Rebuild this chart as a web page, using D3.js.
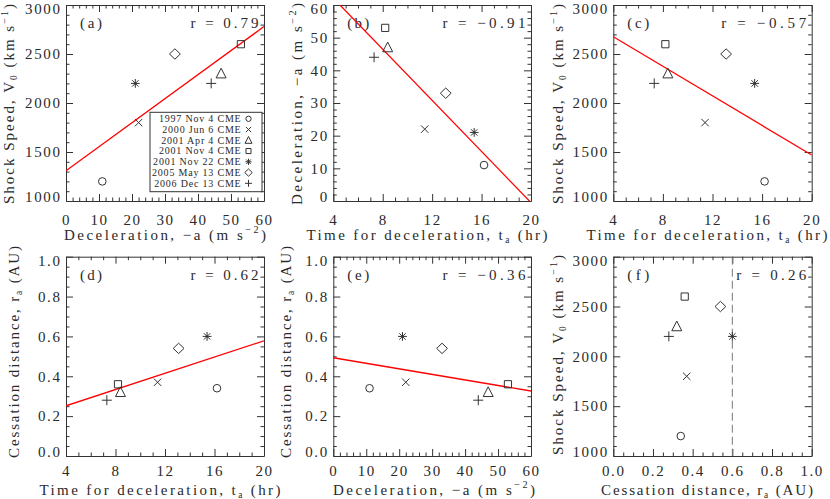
<!DOCTYPE html>
<html><head><meta charset="utf-8">
<script src="https://cdn.jsdelivr.net/npm/d3@7"></script>
<style>
body{margin:0;background:#fff}
text{font-family:"Liberation Serif","DejaVu Serif",serif;fill:#2a2a2a}
</style>
</head><body>
<svg id="chart" width="830" height="499"></svg>
<script>
// ---------------- data ----------------
const events = ["1997 Nov 4 CME","2000 Jun 6 CME","2001 Apr 4 CME","2001 Nov 4 CME","2001 Nov 22 CME","2005 May 13 CME","2006 Dec 13 CME"];
const symbols = ["circle","cross","triangle","square","asterisk","diamond","plus"];
const shockSpeed = [1200,1800,2300,2600,2200,2500,2200];      // V0 (km/s)
const deceleration = [11,22,47,53,21,33,44];                    // -a (m/s^2)
const decelTime = [16.2,11.4,8.4,8.2,15.4,13.1,7.3];            // t_a (hr)
const cessationDist = [0.34,0.37,0.32,0.36,0.60,0.54,0.28];     // r_a (AU)
const rValues = ["0.79","\u22120.91","\u22120.57","0.62","\u22120.36","0.26"];
const panelLabels = ["(a)","(b)","(c)","(d)","(e)","(f)"];
// fitted lines (end points)
const fitA = [[0,1308],[60,2780]];
const fitB = [[4,62.1],[20,-0.5]];
const fitC = [[4,2676],[20,1469]];
const fitD = [[4,0.252],[20,0.578]];
const fitE = [[0,0.493],[60,0.326]];
const cessationMark = 0.6;
// ticks
const ticksDecel = [0,10,20,30,40,50,60];
const ticksTime = [4,8,12,16,20];
const ticksSpeed = [1000,1500,2000,2500,3000];
const ticksDist = [0,0.2,0.4,0.6,0.8,1.0];

// ---------------- layout ----------------
const svg = d3.select("#chart");
const cols = [[66,264],[333.3,531],[613.3,811.7]];
const rows = [[5,201],[256.7,456]];
const ink = "#333";

const T = {
  speed: {parts:[{t:"Shock Speed, V"},{t:"0",sub:1},{t:" (km s"},{t:"\u22121",sup:1},{t:")"}], len:200},
  decel: {parts:[{t:"Deceleration, \u2212a (m s"},{t:"\u22122",sup:1},{t:")"}], len:202},
  time:  {parts:[{t:"Time for deceleration, t"},{t:"a",sub:1},{t:" (hr)"}], len:241},
  dist:  {parts:[{t:"Cessation distance, r"},{t:"a",sub:1},{t:" (AU)"}], len:212}
};

const fmt1 = d3.format(".1f");
const spec = {
  decel: {dom:[0,60], ticks:ticksDecel, minor:2, fmt:d=>d},
  time:  {dom:[4,20], ticks:ticksTime, minor:1, fmt:d=>d},
  speed: {dom:[1000,3000], ticks:ticksSpeed, minor:100, fmt:d=>d},
  decelY:{dom:[0,60], ticks:ticksDecel, minor:2, fmt:d=>d},
  dist:  {dom:[0,1], ticks:ticksDist, minor:0.05, fmt:fmt1}
};

const panels = [
  {c:0,r:0,xs:"decel",ys:"speed",xv:deceleration,yv:shockSpeed,xt:T.decel,yt:T.speed,xtc:165,ytx:14,ytc:104,fit:fitA,legend:true},
  {c:1,r:0,xs:"time",ys:"decelY",xv:decelTime,yv:deceleration,xt:T.time,yt:T.decel,xtc:427,ytx:302,ytc:104,fit:fitB},
  {c:2,r:0,xs:"time",ys:"speed",xv:decelTime,yv:shockSpeed,xt:T.time,yt:T.speed,xtc:707,ytx:563,ytc:104,fit:fitC},
  {c:0,r:1,xs:"time",ys:"dist",xv:decelTime,yv:cessationDist,xt:T.time,yt:T.dist,xtc:160,ytx:19,ytc:352,fit:fitD},
  {c:1,r:1,xs:"decel",ys:"dist",xv:deceleration,yv:cessationDist,xt:T.decel,yt:T.dist,xtc:434,ytx:291,ytc:352,fit:fitE},
  {c:2,r:1,xs:"dist",ys:"speed",xv:cessationDist,yv:shockSpeed,xt:T.dist,yt:T.speed,xtc:707,ytx:563,ytc:355,vline:cessationMark}
];
const rLen = [68,83,85,68,83,70];

function rich(sel, parts, size){
  let pend = 0;
  parts.forEach(p=>{
    const ts = sel.append("tspan").text(p.t);
    let dy = pend;
    if(p.sup){ dy += -size*0.42; pend = size*0.42; ts.attr("font-size",size*0.68); }
    else if(p.sub){ dy += size*0.22; pend = -size*0.22; ts.attr("font-size",size*0.62); }
    else pend = 0;
    if(dy) ts.attr("dy",dy);
  });
  return sel;
}

function drawSymbol(g, type, cx, cy, s){
  const p = d3.path();
  if(type==="circle"){
    g.append("circle").attr("cx",cx).attr("cy",cy).attr("r",3.8*s).attr("fill","none").attr("stroke","#333").attr("stroke-width",1);
    return;
  }
  if(type==="cross"){ const a=3.7*s; p.moveTo(cx-a,cy-a);p.lineTo(cx+a,cy+a);p.moveTo(cx-a,cy+a);p.lineTo(cx+a,cy-a); }
  if(type==="plus"){ const a=5*s; p.moveTo(cx-a,cy);p.lineTo(cx+a,cy);p.moveTo(cx,cy-a);p.lineTo(cx,cy+a); }
  if(type==="square"){ const a=3.6*s; p.rect(cx-a,cy-a,2*a,2*a); }
  if(type==="diamond"){ const a=5.4*s,b=5.2*s; p.moveTo(cx,cy-b);p.lineTo(cx+a,cy);p.lineTo(cx,cy+b);p.lineTo(cx-a,cy);p.closePath(); }
  if(type==="triangle"){ const a=5*s; p.moveTo(cx,cy-5.4*s);p.lineTo(cx+a,cy+4.3*s);p.lineTo(cx-a,cy+4.3*s);p.closePath(); }
  if(type==="asterisk"){ const a=4.4*s,b=3.2*s;
    p.moveTo(cx-a,cy);p.lineTo(cx+a,cy);p.moveTo(cx,cy-a);p.lineTo(cx,cy+a);
    p.moveTo(cx-b,cy-b);p.lineTo(cx+b,cy+b);p.moveTo(cx-b,cy+b);p.lineTo(cx+b,cy-b);
    g.append("circle").attr("cx",cx).attr("cy",cy).attr("r",1*s).attr("fill","#222");
  }
  g.append("path").attr("d",p.toString()).attr("fill","none").attr("stroke","#333").attr("stroke-width",1);
}

const FS = 15, TS = 15;
panels.forEach((P,i)=>{
  const [x0,x1] = cols[P.c], [y0,y1] = rows[P.r];
  const sx = spec[P.xs], sy = spec[P.ys];
  const x = d3.scaleLinear().domain(sx.dom).range([x0,x1]);
  const y = d3.scaleLinear().domain(sy.dom).range([y1,y0]);
  const g = svg.append("g");
  const minorX = d3.range(sx.dom[0], sx.dom[1]+1e-9, sx.minor).filter(v=>!sx.ticks.some(t=>Math.abs(t-v)<1e-9));
  const minorY = d3.range(sy.dom[0], sy.dom[1]+1e-9, sy.minor).filter(v=>!sy.ticks.some(t=>Math.abs(t-v)<1e-9));
  const padB = P.r===0 ? 13 : 9;

  const axes = [
    {a:d3.axisBottom(x), tr:`translate(0,${y1})`, maj:sx.ticks, min:minorX, lab:true, fmt:sx.fmt, pad:padB},
    {a:d3.axisTop(x), tr:`translate(0,${y0})`, maj:sx.ticks, min:minorX},
    {a:d3.axisLeft(y), tr:`translate(${x0},0)`, maj:sy.ticks, min:minorY, lab:true, fmt:sy.fmt, left:true, pad:4.5},
    {a:d3.axisRight(y), tr:`translate(${x1},0)`, maj:sy.ticks, min:minorY}
  ];
  axes.forEach(A=>{
    const ga = g.append("g").attr("transform",A.tr)
      .call(A.a.tickValues(A.maj).tickSize(-7).tickSizeOuter(0)
        .tickPadding(A.pad||3).tickFormat(A.lab?A.fmt:""));
    ga.attr("font-family",null).attr("font-size",null);
    ga.select(".domain").attr("stroke",ink);
    ga.selectAll(".tick line").attr("stroke",ink);
    if(A.lab){
      ga.selectAll(".tick text").attr("font-size",FS).attr("fill","#2a2a2a").attr("letter-spacing",1.6);
    } else {
      ga.selectAll(".tick text").remove();
    }
    if(A.left){
      ga.selectAll(".tick text").attr("transform",d=> d===sy.dom[1]?"translate(0,4)": (d===sy.dom[0]?"translate(0,-4)":null));
    }
    const gm = g.append("g").attr("transform",A.tr)
      .call(A.a.tickValues(A.min).tickSize(-3.5).tickSizeOuter(0).tickFormat(""));
    gm.select(".domain").remove();
    gm.selectAll(".tick text").remove();
    gm.selectAll(".tick line").attr("stroke",ink);
  });

  // titles
  const xt = g.append("text").attr("x",P.xtc).attr("y",y1+38.5).attr("text-anchor","middle")
    .attr("font-size",TS).attr("textLength",P.xt.len).attr("lengthAdjust","spacing");
  rich(xt, P.xt.parts, TS);
  const yt = g.append("text").attr("transform",`translate(${P.ytx},${P.ytc}) rotate(-90)`)
    .attr("text-anchor","middle").attr("font-size",TS).attr("textLength",P.yt.len).attr("lengthAdjust","spacing");
  rich(yt, P.yt.parts, TS);

  // panel label and r
  g.append("text").attr("x",x0+14).attr("y",y0+23).attr("font-size",FS)
    .attr("textLength",22).attr("lengthAdjust","spacing").text(panelLabels[i]);
  g.append("text").attr("x",x1-5.5).attr("y",y0+23).attr("text-anchor","end").attr("font-size",FS)
    .attr("textLength",rLen[i]).attr("lengthAdjust","spacing").text("r = "+rValues[i]);

  // clip
  const cid = "clip"+i;
  svg.append("clipPath").attr("id",cid).append("rect").attr("x",x0).attr("y",y0).attr("width",x1-x0).attr("height",y1-y0);

  if(P.fit){
    g.append("path").attr("clip-path",`url(#${cid})`)
      .attr("d",d3.line().x(d=>x(d[0])).y(d=>y(d[1]))(P.fit))
      .attr("stroke","#ff0000").attr("stroke-width",1.3).attr("fill","none");
  }
  if(P.vline!==undefined){
    g.append("line").attr("x1",x(P.vline)).attr("x2",x(P.vline)).attr("y1",y0).attr("y2",y1)
      .attr("stroke","#777").attr("stroke-width",1).attr("stroke-dasharray","8,4");
  }
  events.forEach((e,k)=>drawSymbol(g, symbols[k], x(P.xv[k]), y(P.yv[k]), 1));

  if(P.legend){
    const lg = g.append("g");
    lg.append("rect").attr("x",150).attr("y",112.3).attr("width",112).attr("height",79.4)
      .attr("fill","#fff").attr("stroke",ink).attr("stroke-width",1);
    events.forEach((e,k)=>{
      const cy = 118.8 + k*10.75;
      lg.append("text").attr("x",241.5).attr("y",cy+3.4).attr("text-anchor","end")
        .attr("font-size",10).attr("letter-spacing",0.8).text(e);
      drawSymbol(lg, symbols[k], 248.5, cy, 0.7);
    });
  }
});
</script>
</body></html>
